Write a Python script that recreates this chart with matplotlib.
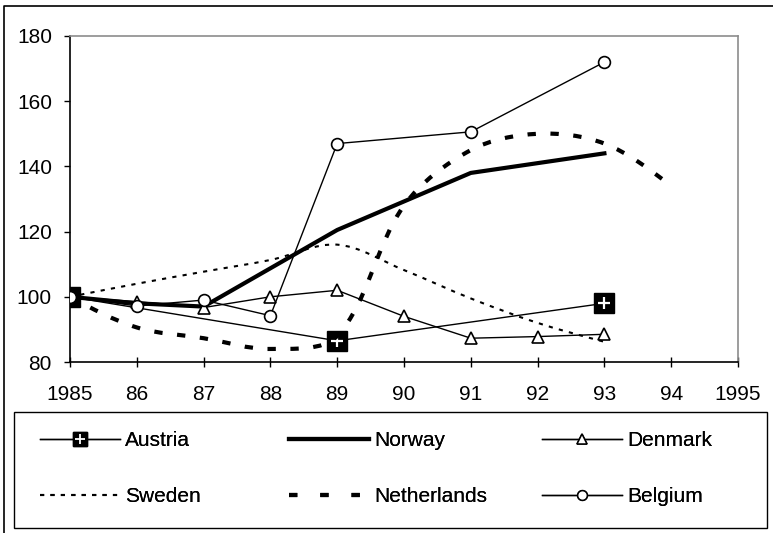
import numpy as np
import matplotlib
matplotlib.use('Agg')
import matplotlib.pyplot as plt
from matplotlib.lines import Line2D
from matplotlib.path import Path
from matplotlib.patches import PathPatch, Rectangle

plt.rcParams['font.family'] = ['Liberation Sans', 'DejaVu Sans']

# ── Series (index, 1985 = 100) ────────────────────────────────────────────────
austria_years = [1985, 1989, 1993]
austria       = [100, 86.5, 98]

norway_years  = [1985, 1986, 1987, 1989, 1991, 1993]
norway        = [100, 98, 97, 120.5, 138, 144]

denmark_years = [1985, 1986, 1987, 1988, 1989, 1990, 1991, 1992, 1993]
denmark       = [100, 98.5, 96.7, 100, 102, 94, 87.3, 87.8, 88.5]

sweden_years  = [1985, 1986, 1987, 1988, 1989, 1990, 1991, 1992, 1993]
sweden        = [100, 104, 107.7, 111.3, 116, 108.2, 99.5, 92, 86.2]

nether_years  = [1985, 1986, 1987, 1988, 1989, 1990, 1991, 1992, 1993, 1994]
netherlands   = [100, 90.6, 87.3, 84, 88, 128, 145, 150, 147, 134]

belgium_years = [1985, 1986, 1987, 1988, 1989, 1991, 1993]
belgium       = [100, 97.2, 99, 94.2, 147, 150.6, 172]

x_ticks  = list(range(1985, 1996))
x_labels = ['1985', '86', '87', '88', '89', '90', '91', '92', '93', '94', '1995']
y_ticks  = [80, 100, 120, 140, 160, 180]

FS = 15
W, H = 773, 533


def smooth_path(ax, xs, ys):
    """Smoothed line through the points: cubic Bezier segments whose
    tangents are split by neighbouring segment lengths (in screen space)."""
    data = np.column_stack([xs, ys]).astype(float)
    pts = ax.transData.transform(data)
    n = len(pts)
    seg = np.hypot(*np.diff(pts, axis=0).T)
    out_ctrl = np.zeros_like(pts)
    in_ctrl = np.zeros_like(pts)
    for i in range(n):
        if i == 0 or i == n - 1:
            out_ctrl[i] = pts[i]
            in_ctrl[i] = pts[i]
            continue
        t = pts[i + 1] - pts[i - 1]
        d0, d1 = seg[i - 1], seg[i]
        in_ctrl[i] = pts[i] - t * d0 / (d0 + d1) / 3.0
        out_ctrl[i] = pts[i] + t * d1 / (d0 + d1) / 3.0
    verts = [pts[0]]
    codes = [Path.MOVETO]
    for i in range(n - 1):
        c1 = out_ctrl[i] if i > 0 else pts[i] + (in_ctrl[i + 1] - pts[i]) / 2.0
        c2 = in_ctrl[i + 1] if i + 1 < n - 1 else pts[i + 1] + (out_ctrl[i] - pts[i + 1]) / 2.0
        verts += [c1, c2, pts[i + 1]]
        codes += [Path.CURVE4] * 3
    inv = ax.transData.inverted()
    return Path(inv.transform(np.array(verts)), codes)


fig = plt.figure(figsize=(W / 100, H / 100), dpi=100)
ax = fig.add_axes([70 / W, 1 - 362 / H, (738 - 70) / W, (362 - 36) / H])
ax.set_xlim(1985, 1995)
ax.set_ylim(80, 180)

# outer frame (top and left edges)
fig.add_artist(Line2D([4 / W, 4 / W, 1], [0, 1 - 6 / H, 1 - 6 / H],
                      transform=fig.transFigure, color='black', lw=1.2))

# Austria: black square with white plus
ax.plot(austria_years, austria, '-', color='black', lw=1.0, zorder=2)
ax.plot(austria_years, austria, 's', color='black', ms=15, zorder=2)
ax.plot(austria_years, austria, '+', color='white', ms=9, mew=1.6, zorder=2)

# Norway: thick solid
ax.plot(norway_years, norway, '-', color='black', lw=3.0, zorder=3)

# Denmark: open triangles
ax.plot(denmark_years, denmark, '-^', color='black', lw=1.0, ms=9,
        mfc='white', mec='black', mew=1.2, zorder=4)

# Sweden: thin dotted smoothed line
sw = PathPatch(smooth_path(ax, sweden_years, sweden), fill=False, edgecolor='black',
               lw=1.5, linestyle=(0, (2.0, 3.0)), capstyle='butt', zorder=5)
ax.add_patch(sw)

# Netherlands: thick dashed smoothed line
nl = PathPatch(smooth_path(ax, nether_years, netherlands), fill=False, edgecolor='black',
               lw=3.0, linestyle=(0, (2.0, 3.5)), capstyle='butt', zorder=6)
ax.add_patch(nl)

# Belgium: open circles
ax.plot(belgium_years, belgium, '-o', color='black', lw=1.0, ms=8.5,
        mfc='white', mec='black', mew=1.2, zorder=7)

ax.set_xticks(x_ticks)
ax.set_xticklabels(x_labels)
ax.set_yticks(y_ticks)
ax.tick_params(axis='x', direction='inout', length=7, width=1.0, pad=13, labelsize=FS)
ax.tick_params(axis='y', direction='out', length=4, width=1.0, pad=9, labelsize=FS)
for side in ('top', 'right'):
    ax.spines[side].set_color('#8c8c8c')
    ax.spines[side].set_linewidth(1.2)
for side in ('left', 'bottom'):
    ax.spines[side].set_color('black')
    ax.spines[side].set_linewidth(1.2)

# ── Legend (boxed, 3 columns x 2 rows) ────────────────────────────────────────
fig.add_artist(Rectangle((14 / W, 1 - 528 / H), (767 - 14) / W, (528 - 412) / H,
                         transform=fig.transFigure, fill=False, edgecolor='black', lw=1.0))

h_austria = (Line2D([], [], color='black', lw=1.0),
             Line2D([], [], marker='s', ls='none', color='black', ms=9.5),
             Line2D([], [], marker='+', ls='none', color='white', ms=6.5, mew=1.3))
h_norway  = Line2D([], [], color='black', lw=3.0)
h_denmark = Line2D([], [], color='black', lw=1.0, marker='^', ms=7,
                   mfc='white', mec='black', mew=1.1)
h_sweden  = Line2D([], [], color='black', lw=1.5, ls=(0, (2.0, 3.0)))
h_nether  = Line2D([], [], color='black', lw=3.0, ls=(0, (2.0, 5.5)),
                   solid_capstyle='butt', dash_capstyle='butt')
h_belgium = Line2D([], [], color='black', lw=1.0, marker='o', ms=7,
                   mfc='white', mec='black', mew=1.1)

entries = [
    (h_austria, 'Austria', 40, 441),
    (h_norway, 'Norway', 289, 441),
    (h_denmark, 'Denmark', 542, 441),
    (h_sweden, 'Sweden', 40, 497),
    (h_nether, 'Netherlands', 289, 497),
    (h_belgium, 'Belgium', 542, 497),
]
for handle, label, px, py in entries:
    leg = fig.legend([handle], [label], loc='center left',
                     bbox_to_anchor=(px / W, 1 - py / H),
                     bbox_transform=fig.transFigure, frameon=False,
                     fontsize=FS, handlelength=57.6 / FS, handletextpad=0.25,
                     borderpad=0, borderaxespad=0)
    fig.add_artist(leg)

fig.savefig('out.png', dpi=100)
